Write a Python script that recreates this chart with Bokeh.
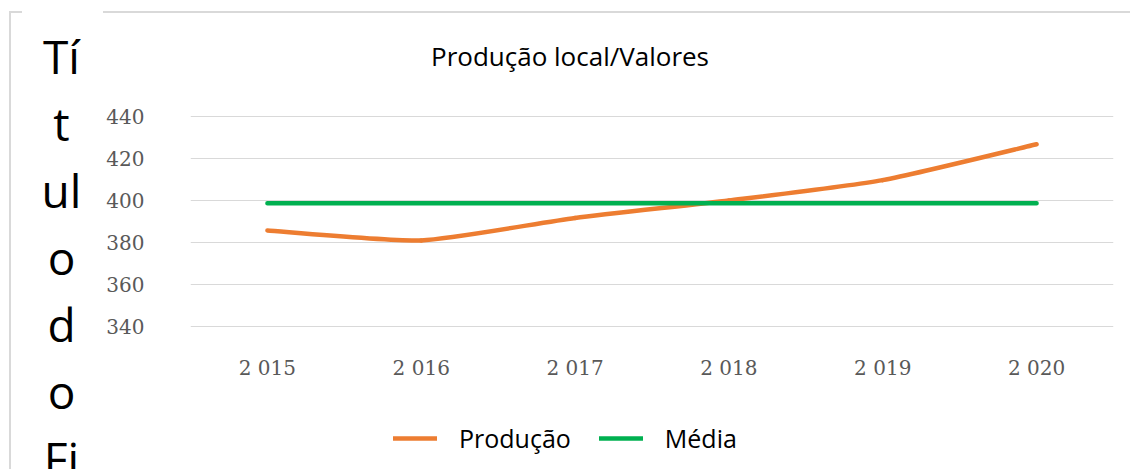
from bokeh.plotting import figure
from bokeh.models import Label, Legend, LegendItem, FixedTicker, Range1d
from bokeh.layouts import row
from bokeh.embed import file_html
from bokeh.resources import INLINE

# ---- data ----
years = ["2 015", "2 016", "2 017", "2 018", "2 019", "2 020"]
producao = [385.7, 381.0, 391.7, 400.0, 409.7, 426.8]
media = [398.7, 398.7, 398.7, 398.7, 398.7, 398.7]
y_ticks = [340, 360, 380, 400, 420, 440]
chart_title = "Produção local/Valores"
axis_title_parts = ["Tí", "t", "ul", "o", "d", "o", "Fi"]
series_names = ["Produção", "Média"]

ORANGE = "#ED7D31"
GREEN = "#00B050"
GRID = "#D9D9D9"
TICK = "#595959"
TEXT_FONT = "Open Sans"

H = 456          # canvas height of both panels
LW = 90          # left (axis title) panel width
MW = 1029        # main chart width

# ---- left panel: wrapped axis title ----
left = figure(width=LW, height=H, output_backend="svg", toolbar_location=None,
              x_range=Range1d(0, LW), y_range=Range1d(0, H),
              x_axis_type=None, y_axis_type=None, min_border=0,
              title_location=None, styles={"margin-top": "2px"})
left.outline_line_color = None
left.background_fill_color = "white"
left.border_fill_color = "white"
for i, part in enumerate(axis_title_parts):
    left.add_layout(Label(x=50, y=H - (42 + 67 * i), text=part,
                          text_font=TEXT_FONT, text_font_size="46px",
                          text_color="#000000", text_align="center",
                          text_baseline="alphabetic"))

# ---- main chart (frame spans the full height; grid 340..440 via fixed ticks) ----
xs = list(range(len(years)))
p = figure(width=MW, height=H, output_backend="svg", toolbar_location=None,
           x_range=Range1d(-0.5, len(years) - 0.5), y_range=Range1d(271.84, 489.09),
           min_border_left=89, min_border_right=17, min_border_top=0,
           min_border_bottom=0, title_location=None, styles={"margin-top": "2px"})
p.outline_line_color = None
p.background_fill_color = "white"
p.border_fill_color = "white"

p.xaxis.ticker = FixedTicker(ticks=xs)
p.xaxis.major_label_overrides = {i: years[i] for i in xs}
p.yaxis.ticker = FixedTicker(ticks=y_ticks)
for ax in (p.xaxis, p.yaxis):
    ax.axis_line_color = None
    ax.major_tick_line_color = None
    ax.minor_tick_line_color = None
    ax.major_label_text_font = "DejaVu Serif"
    ax.major_label_text_font_size = "20px"
    ax.major_label_text_color = TICK
p.yaxis.major_label_standoff = 40
p.xaxis.major_label_standoff = -120
p.xgrid.grid_line_color = None
p.ygrid.grid_line_color = GRID
p.ygrid.grid_line_width = 1

# smoothed production line (Bezier segments)
k = 1.0 / 10.0
n = len(producao)
x0, y0, x1, y1, cx0, cy0, cx1, cy1 = [], [], [], [], [], [], [], []
for i in range(n - 1):
    xa, ya = xs[i], producao[i]
    xb, yb = xs[i + 1], producao[i + 1]
    xp, yp = (xs[i - 1], producao[i - 1]) if i > 0 else (xa, ya)
    xn, yn = (xs[i + 2], producao[i + 2]) if i + 2 < n else (xb, yb)
    x0.append(xa); y0.append(ya); x1.append(xb); y1.append(yb)
    cx0.append(xa + (xb - xp) * k); cy0.append(ya + (yb - yp) * k)
    cx1.append(xb - (xn - xa) * k); cy1.append(yb - (yn - ya) * k)

r_prod = p.bezier(x0=x0, y0=y0, x1=x1, y1=y1, cx0=cx0, cy0=cy0, cx1=cx1, cy1=cy1,
                  line_color=ORANGE, line_width=4.5, line_cap="round")
r_med = p.line(xs, media, line_color=GREEN, line_width=4.5, line_cap="round")

legend = Legend(items=[LegendItem(label=series_names[0], renderers=[r_prod]),
                       LegendItem(label=series_names[1], renderers=[r_med])],
                location=(203, 14), orientation="horizontal",
                padding=0, margin=0, spacing=28, label_standoff=22,
                glyph_width=44, glyph_height=20,
                label_text_font=TEXT_FONT, label_text_font_size="25px",
                label_text_color="#000000",
                border_line_color=None, background_fill_alpha=0)
p.add_layout(legend, "center")

# chart title
p.add_layout(Label(x=379.5, y=414, x_units="screen", y_units="screen",
                   text=chart_title, text_font=TEXT_FONT, text_font_size="26px",
                   text_color="#000000", text_align="center",
                   text_baseline="alphabetic"))

GRAD = "linear-gradient(#D9D9D9,#D9D9D9)"
layout = row(left, p,
             styles={"margin-left": "9px", "margin-top": "11px",
                     "border-left": "2px solid #D9D9D9",
                     "background": f"{GRAD} 0 0 / 11px 2px no-repeat, "
                                   f"{GRAD} 92px 0 / 100% 2px no-repeat"})

open("out.html", "w").write(file_html(layout, INLINE))
